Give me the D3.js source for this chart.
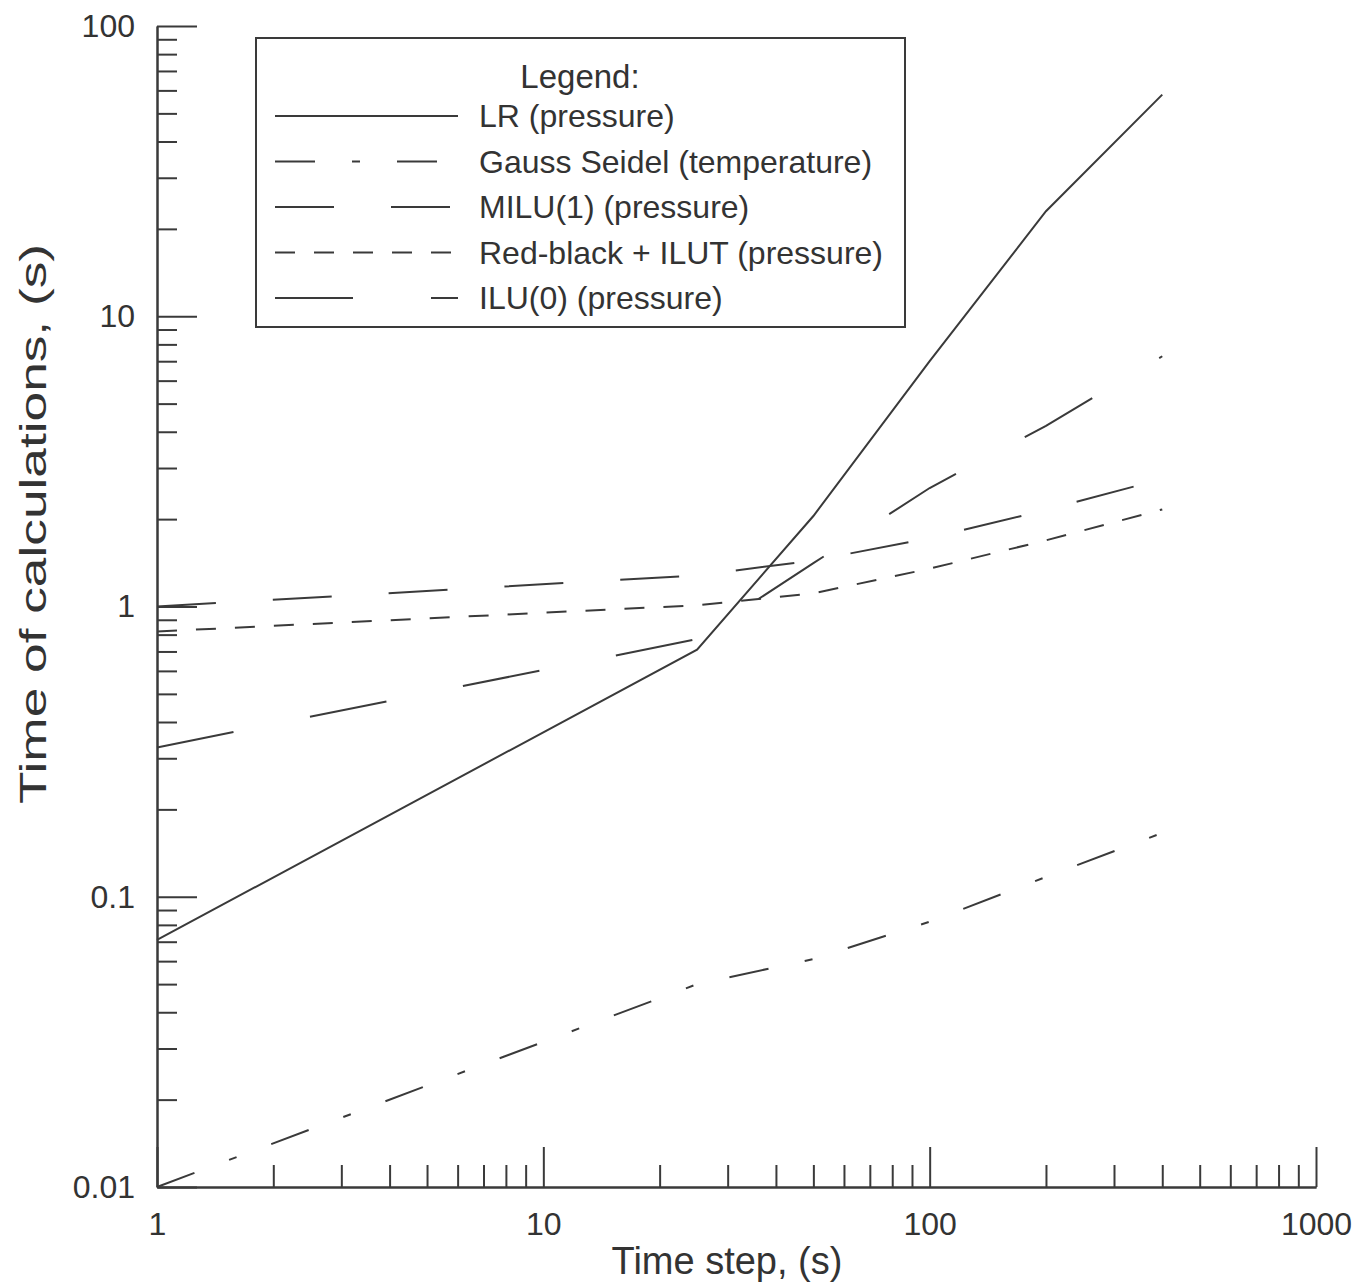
<!DOCTYPE html>
<html>
<head>
<meta charset="utf-8" />
<script src="https://cdn.jsdelivr.net/npm/d3@7"></script>
<style>
  body { margin: 0; background: #ffffff; }
  text { font-family: 'Liberation Sans', Arial, Helvetica, sans-serif; fill: #333333; }
</style>
</head>
<body>
<div id="chart"></div>
<script>
const timeSteps = [1, 25, 50, 100, 200, 400]

const lrPressure = [0.071, 0.71, 2.05, 7.0, 23, 58]
const gaussSeidelTemp = [0.01, 0.05, 0.061, 0.082, 0.117, 0.166]
const milu1Pressure = [1.0, 1.28, 1.44, 1.72, 2.15, 2.75]
const redBlackIlutPressure = [0.82, 1.01, 1.11, 1.35, 1.69, 2.16]
const ilu0Pressure = [0.327, 0.772, 1.41, 2.56, 4.19, 7.28]

const seriesNames = [
  'LR (pressure)',
  'Gauss Seidel (temperature)',
  'MILU(1) (pressure)',
  'Red-black + ILUT (pressure)',
  'ILU(0) (pressure)',
]

const xMajorTicks = [1, 10, 100, 1000]
const yMajorTicks = [0.01, 0.1, 1, 10, 100]
const xTickLabels = ['1', '10', '100', '1000']
const yTickLabels = ['0.01', '0.1', '1', '10', '100']

const xTitle = 'Time step, (s)'
const yTitle = 'Time of calculations, (s)'
const legendTitle = 'Legend:'

const W = 1364
const H = 1287
const margin = { top: 26, right: 48, bottom: 100, left: 157 }
const INK = '#3a3a3a'

const dashes = ['none', '40,37,8,37', '59,57', '20,19', '78,78']

const svg = d3.select('#chart').append('svg').attr('width', W).attr('height', H)

svg.append('rect').attr('width', W).attr('height', H).attr('fill', '#ffffff')

const x = d3.scaleLog().domain([1, 1000]).range([margin.left, W - margin.right])
const y = d3.scaleLog().domain([0.01, 100]).range([H - margin.bottom, margin.top])

const minorOf = (domain) => {
  const out = []
  for (let d = domain[0]; d < domain[1]; d *= 10) {
    for (let k = 2; k <= 9; k++) out.push(+(d * k).toPrecision(3))
  }
  return out
}

const styleAxis = (g) => {
  g.selectAll('path').attr('stroke', INK).attr('stroke-width', 2)
  g.selectAll('line').attr('stroke', INK).attr('stroke-width', 2)
  g.selectAll('text')
    .attr('font-family', "'Liberation Sans', Arial, sans-serif")
    .attr('font-size', 32)
    .attr('fill', INK)
}

// x axis: minor ticks then major ticks with labels
const xAxisG = svg.append('g').attr('transform', `translate(0, ${H - margin.bottom})`)
xAxisG
  .append('g')
  .call(d3.axisBottom(x).tickValues(minorOf([1, 1000])).tickSize(-22).tickSizeOuter(0).tickFormat(''))
  .call(styleAxis)
xAxisG
  .append('g')
  .call(
    d3
      .axisBottom(x)
      .tickValues(xMajorTicks)
      .tickSize(-40)
      .tickSizeOuter(0)
      .tickPadding(25)
      .tickFormat((d, i) => xTickLabels[i])
  )
  .call(styleAxis)

// y axis
const yAxisG = svg.append('g').attr('transform', `translate(${margin.left}, 0)`)
yAxisG
  .append('g')
  .call(d3.axisLeft(y).tickValues(minorOf([0.01, 100])).tickSize(-20).tickSizeOuter(0).tickFormat(''))
  .call(styleAxis)
yAxisG
  .append('g')
  .call(
    d3
      .axisLeft(y)
      .tickValues(yMajorTicks)
      .tickSize(-40)
      .tickSizeOuter(0)
      .tickPadding(22)
      .tickFormat((d, i) => yTickLabels[i])
  )
  .call(styleAxis)

// axis titles
svg
  .append('text')
  .attr('x', 727)
  .attr('y', 1274)
  .attr('text-anchor', 'middle')
  .attr('font-size', 38)
  .attr('fill', INK)
  .text(xTitle)

svg
  .append('text')
  .attr('transform', `translate(46, 524) rotate(-90)`)
  .attr('text-anchor', 'middle')
  .attr('font-size', 37)
  .attr('textLength', 560)
  .attr('lengthAdjust', 'spacingAndGlyphs')
  .attr('fill', INK)
  .text(yTitle)

// series
const allSeries = [lrPressure, gaussSeidelTemp, milu1Pressure, redBlackIlutPressure, ilu0Pressure]

const line = d3
  .line()
  .x((d) => x(d[0]))
  .y((d) => y(d[1]))

allSeries.forEach((values, i) => {
  svg
    .append('path')
    .datum(timeSteps.map((t, j) => [t, values[j]]))
    .attr('d', line)
    .attr('fill', 'none')
    .attr('stroke', INK)
    .attr('stroke-width', 2)
    .attr('stroke-dasharray', dashes[i])
})

// legend
const legend = svg.append('g')
legend
  .append('rect')
  .attr('x', 256)
  .attr('y', 38)
  .attr('width', 649)
  .attr('height', 289)
  .attr('fill', '#ffffff')
  .attr('stroke', INK)
  .attr('stroke-width', 2)

legend
  .append('text')
  .attr('x', 580)
  .attr('y', 88)
  .attr('text-anchor', 'middle')
  .attr('font-size', 33)
  .attr('fill', INK)
  .text(legendTitle)

seriesNames.forEach((name, i) => {
  const ly = 116 + i * 45.5
  legend
    .append('line')
    .attr('x1', 275)
    .attr('x2', 458)
    .attr('y1', ly)
    .attr('y2', ly)
    .attr('stroke', INK)
    .attr('stroke-width', 2)
    .attr('stroke-dasharray', dashes[i])
  legend
    .append('text')
    .attr('x', 479)
    .attr('y', ly)
    .attr('dy', '0.35em')
    .attr('font-size', 32)
    .attr('fill', INK)
    .text(name)
})
</script>
</body>
</html>
